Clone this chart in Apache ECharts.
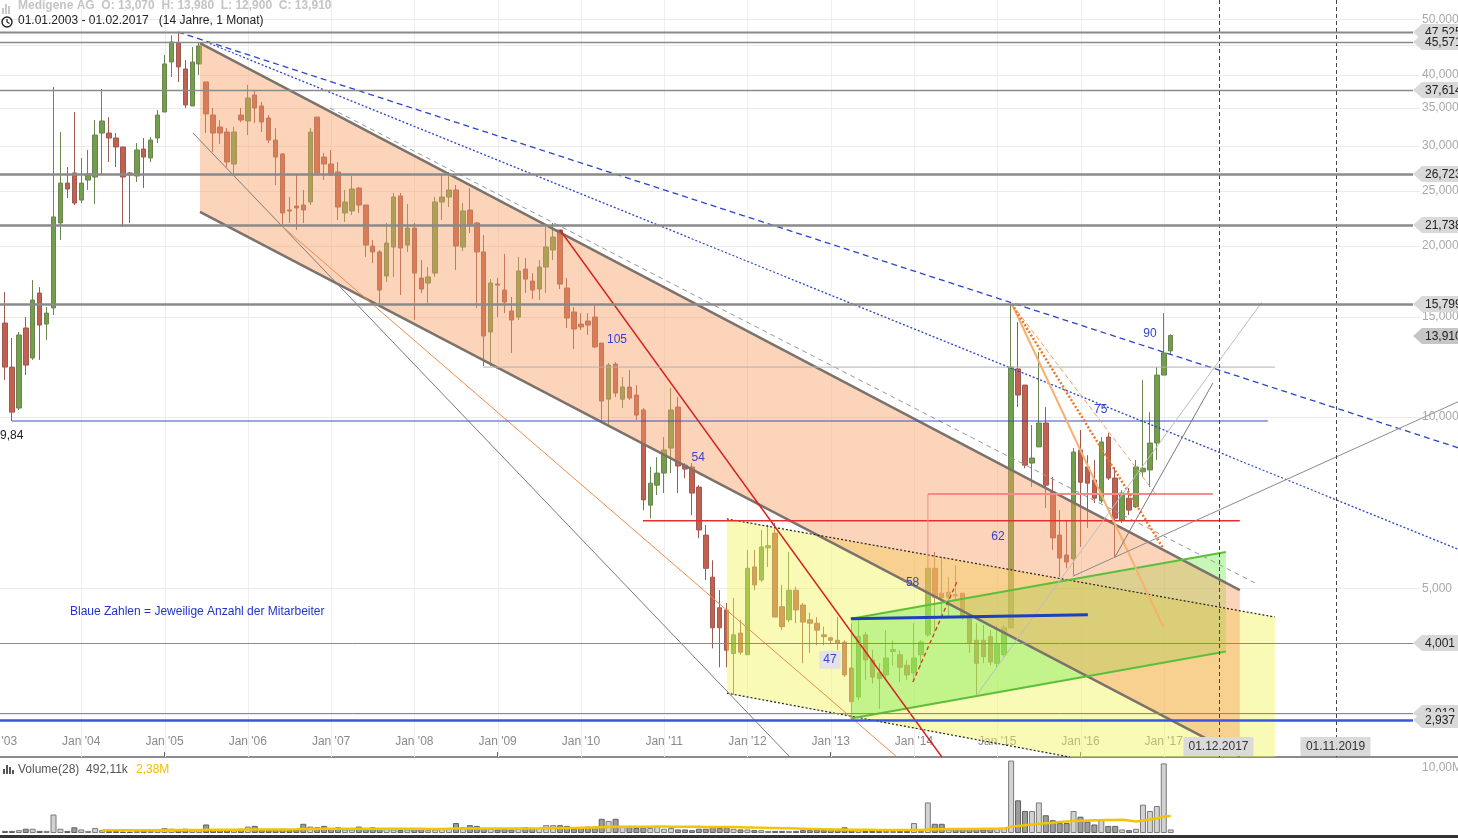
<!DOCTYPE html>
<html><head><meta charset="utf-8">
<script src="https://cdn.jsdelivr.net/npm/echarts@6.0.0/dist/echarts.min.js"></script>
<style>html,body{margin:0;padding:0;background:#fff;overflow:hidden}#c{width:1458px;height:838px}</style>
</head><body><div id="c"></div><script>
// ---------- DATA ----------
// month index: Jan 2003 = 0, first visible candle Feb 2003 = 1
const firstMonth = 1;
// [open, close, low, high] in EUR, monthly Feb 2003 .. Feb 2017
const ohlc = [
[14.63,12.24,11.62,16.59],[12.24,10.20,9.84,13.77],[10.37,13.94,10.29,14.11],[14.34,12.34,11.85,14.99],[12.70,16.06,12.60,17.41],
[16.52,14.51,12.60,16.92],[14.57,15.23,13.66,15.61],[15.55,22.48,15.11,38.04],[21.94,25.78,20.47,31.70],[25.78,25.17,24.27,27.51],
[26.86,23.78,23.59,34.38],[24.07,25.78,23.78,28.54],[26.10,26.75,25.07,29.48],[26.42,31.32,23.69,33.28],[31.57,33.15,26.64,37.73],
[31.57,30.94,28.08,33.68],[30.94,29.84,27.51,31.57],[29.84,26.42,21.58,29.84],[26.86,26.64,21.94,26.97],[26.53,29.48,25.89,30.32],
[29.60,28.65,25.27,30.94],[28.54,30.69,28.08,31.07],[30.94,33.96,30.32,34.66],[34.38,41.76,34.38,43.30],[42.09,45.64,39.61,46.90],
[45.46,41.26,38.82,47.525],[40.92,35.37,34.94,42.43],[35.23,42.09,35.23,44.73],[41.76,44.91,39.93,45.571],[38.82,34.11,31.57,38.82],
[33.96,31.57,29.24,34.94],[32.36,31.57,30.20,33.28],[31.70,28.08,27.51,32.23],[27.85,31.70,26.75,32.36],[33.96,33.28,33.01,34.94],
[33.15,36.38,31.32,38.35],[36.83,34.94,32.88,37.58],[35.23,33.01,31.70,35.81],[33.55,30.69,30.32,33.96],[30.69,28.65,25.58,32.23],
[29.00,22.84,21.76,29.12],[23.12,23.03,21.94,24.37],[23.50,23.31,21.32,26.64],[23.59,23.12,21.94,25.07],[23.88,31.70,23.59,32.23],
[33.68,26.86,26.86,33.68],[28.65,27.85,26.10,29.12],[27.85,26.64,26.53,29.48],[26.97,23.40,22.20,28.08],[22.84,23.88,22.02,25.07],
[23.03,25.17,22.66,26.53],[25.27,23.59,22.84,25.37],[23.59,20.06,19.12,23.59],[19.98,19.51,18.65,20.47],[19.51,16.72,15.61,19.66],
[17.70,20.22,17.27,21.94],[19.90,24.37,17.63,24.77],[24.47,19.82,16.39,24.77],[20.06,21.49,19.51,23.69],[21.49,17.91,14.81,21.94],
[17.55,16.79,16.52,18.88],[17.20,17.63,15.87,18.35],[17.91,23.88,17.63,24.37],[23.88,24.37,22.20,26.64],[24.37,25.07,23.40,26.97],
[25.07,19.98,18.13,25.58],[19.90,23.03,19.58,23.78],[23.12,21.76,21.06,25.27],[21.94,19.51,15.55,22.02],[19.51,13.88,12.29,20.89],
[14.11,17.20,12.29,17.48],[17.13,17.06,14.99,17.55],[16.72,15.93,15.23,19.35],[15.36,14.81,12.96,16.26],[14.99,18.06,14.81,19.12],
[18.20,17.48,16.52,19.04],[17.34,16.72,16.13,17.91],[16.79,18.35,16.06,18.88],[18.35,19.90,16.52,21.58],[19.66,20.72,18.88,21.94],
[21.32,17.13,16.79,21.32],[16.86,14.93,14.34,17.55],[15.30,14.28,13.17,15.61],[14.57,14.40,14.22,15.23],[14.75,14.51,13.94,15.23],
[14.99,13.28,13.23,15.80],[13.49,10.67,9.88,13.49],[10.75,12.34,9.60,12.44],[12.39,11.02,10.84,12.49],[10.75,11.29,10.37,11.76],
[11.29,10.80,10.71,12.10],[10.93,10.08,9.88,11.38],[10.29,7.15,6.86,10.37],[7.00,7.65,6.64,8.17],[7.59,7.97,7.29,8.50],
[7.97,8.75,7.35,9.22],[8.82,10.29,7.97,11.25],[10.41,8.20,7.35,10.84],[8.23,8.10,7.81,8.30],[8.17,7.35,6.72,8.30],
[7.53,6.33,6.13,7.59],[6.20,5.42,5.17,6.46],[5.23,4.26,3.92,5.60],[4.62,4.26,3.63,4.96],[4.58,3.89,3.63,4.71],
[3.84,4.14,3.25,4.81],[4.17,3.86,3.82,4.40],[3.82,5.42,3.82,5.84],[5.45,5.07,4.96,5.84],[5.17,5.91,5.13,6.33],
[5.89,5.94,5.45,6.46],[6.25,4.45,4.45,6.51],[4.64,4.28,4.22,5.07],[4.40,4.96,4.36,5.79],[4.96,4.58,4.34,5.03],
[4.67,4.36,3.69,4.71],[4.40,4.34,3.85,4.53],[4.34,4.22,3.97,4.45],[4.14,4.11,3.97,4.28],[4.09,4.05,4.00,4.11],
[4.05,4.00,3.89,4.45],[4.02,3.52,3.49,4.05],[3.62,3.16,2.937,4.34],[3.22,4.11,3.18,4.40],[4.14,3.74,3.45,4.19],
[3.74,3.49,3.40,3.89],[3.55,3.47,3.07,3.69],[3.52,3.77,3.45,4.22],[3.87,3.90,3.66,4.05],[3.82,3.63,3.42,3.89],
[3.66,3.52,3.45,3.74],[3.55,3.77,3.42,4.34],[3.82,4.02,3.63,4.05],[4.14,5.42,4.11,5.42],[5.42,4.82,4.19,5.79],
[4.90,4.81,4.45,5.67],[4.82,4.92,4.45,5.23],[4.87,4.85,4.77,5.49],[4.90,4.45,4.40,4.90],[4.45,4.00,3.85,4.45],
[4.05,3.69,3.25,4.34],[4.05,3.79,3.69,4.31],[4.11,3.71,3.66,4.22],[3.69,4.00,3.63,4.31],[3.82,4.26,3.79,4.31],
[4.26,12.24,4.26,15.799],[12.15,10.93,10.41,14.69],[11.38,8.23,8.13,11.38],[8.30,8.47,7.53,9.68],[8.86,9.76,8.86,13.01],
[9.76,7.59,6.92,10.41],[7.38,6.13,5.84,7.84],[6.20,5.65,5.23,6.86],[5.72,5.56,5.42,6.59],[5.63,8.68,5.27,8.82],
[8.75,7.68,5.91,9.49],[8.17,7.65,6.38,8.57],[7.75,7.20,7.06,8.40],[7.12,9.04,7.06,9.22],[9.22,7.81,7.75,9.37],
[7.81,6.64,5.67,8.17],[6.59,7.35,6.51,7.44],[7.20,6.86,6.72,7.50],[6.95,8.17,6.92,8.40],[8.01,8.13,7.84,11.62],
[8.07,9.00,7.53,10.20],[9.00,11.85,8.40,12.24],[11.85,12.96,11.85,15.23],[13.07,13.91,12.90,13.98]
];
// monthly volume in millions of shares
const volume = [
0.3,0.3,0.4,0.6,0.6,0.3,0.3,2.6,0.6,0.3,
0.8,0.5,0.3,0.7,0.4,0.3,0.3,0.2,0.2,0.3,
0.4,0.3,0.4,0.7,0.6,0.5,0.6,0.4,0.4,1.2,
0.5,0.5,0.4,0.4,0.6,0.9,1.0,0.5,0.4,0.5,
0.6,0.4,0.5,1.3,0.9,0.8,1.0,0.6,0.8,0.5,
0.5,0.9,0.6,0.8,0.6,0.6,0.5,0.4,0.5,0.6,
0.6,0.4,0.5,0.6,0.6,1.4,0.8,1.1,1.0,0.7,
0.6,0.5,0.6,0.5,0.6,0.8,0.7,0.7,1.1,1.1,
1.1,1.0,0.6,0.7,0.9,0.9,2.0,1.7,2.0,0.9,
1.0,0.7,0.8,0.7,0.9,0.6,0.7,0.5,0.5,0.4,
0.6,0.6,0.9,0.7,0.8,0.6,0.5,0.5,0.4,0.4,
0.3,0.3,0.3,0.3,0.3,0.4,0.4,0.5,0.4,0.6,
0.5,0.8,0.4,0.4,0.3,0.3,0.3,0.3,0.3,0.3,
0.3,1.4,0.3,4.3,1.3,1.3,0.5,0.7,0.7,0.6,
0.6,0.5,0.6,0.7,0.7,10.2,4.6,3.1,3.1,4.3,
2.5,1.8,1.4,1.4,3.1,2.3,1.6,1.2,1.9,1.0,
1.0,0.5,0.4,0.6,4.0,3.1,3.8,9.8,0.5
];
// Volume(28) moving average (millions), from candle index 14
const volumeMAStart = 14;
const volumeMA = [
0.40,0.40,0.39,0.38,0.38,0.38,0.39,0.40,0.40,0.41,0.42,0.42,0.43,0.43,0.44,0.46,0.46,
0.46,0.46,0.47,0.47,0.48,0.50,0.50,0.50,0.50,0.51,0.51,0.52,0.55,0.56,0.57,0.59,0.59,0.60,0.60,0.60,
0.60,0.60,0.61,0.61,0.61,0.60,0.60,0.59,0.59,0.59,0.58,0.58,0.58,0.60,0.62,0.62,0.63,0.64,0.64,0.64,
0.64,0.64,0.64,0.64,0.65,0.65,0.66,0.68,0.70,0.71,0.72,0.72,0.73,0.74,0.78,0.82,0.86,0.87,0.88,0.89,
0.89,0.89,0.89,0.90,0.90,0.89,0.88,0.88,0.87,0.87,0.86,0.86,0.85,0.85,0.83,0.81,0.79,0.76,0.74,0.72,
0.70,0.68,0.66,0.63,0.60,0.57,0.55,0.53,0.51,0.50,0.48,0.47,0.46,0.45,0.45,0.44,0.43,0.42,0.41,0.41,
0.42,0.44,0.50,0.52,0.54,0.55,0.56,0.57,0.58,0.58,0.59,0.59,0.60,0.62,0.90,1.00,1.10,1.20,1.30,1.38,
1.45,1.55,1.62,1.70,1.74,1.77,1.79,1.80,1.82,1.84,1.85,1.75,1.62,1.75,1.90,2.05,2.32,2.38
];
const yearTicks = [0,12,24,36,48,60,72,84,96,108,120,132,144,156,168];
const yearLabels = ["Jan '03","Jan '04","Jan '05","Jan '06","Jan '07","Jan '08","Jan '09","Jan '10","Jan '11","Jan '12","Jan '13","Jan '14","Jan '15","Jan '16","Jan '17"];
const priceTickLabels = [5,10,15,20,25,30,35,40,50];
const priceGridValues = [3,4,5,10,15,20,25,30,35,40,45,50];
const levelPrices = [47.525,45.571,37.614,26.723,21.738,15.799,4.001,3.012];
const blueLevelPrice = 2.937;
const lastClose = 13.910;
// future date markers [month position, label]
const futureMonths = [175.9, 192.8];
const futureLabels = ['01.12.2017','01.11.2019'];
// staff counts (blue numbers) and their [month, price] anchor
const staffCounts = [105,54,62,58,47,75,90];
const staffAnchors = [[89.2,13.66],[100.9,8.47],[144.1,6.15],[131.8,5.11],[119.9,3.74],[158.9,10.29],[166.0,14.0]];
// areas as [month, price] corners
const orangeChannelArea = [[29.11,45.45],[178.96,4.96],[178.96,2.535],[29.11,22.94]];
const yellowChannelArea = [[105.04,6.62],[184.01,4.45],[184.01,2.525],[154.47,2.525],[105.04,3.27]];
const greenChannelArea = [[122.91,4.42],[176.95,5.79],[176.95,3.87],[122.91,2.95]];
// trend lines as [month, price] pairs
const channelUpper = [[29.11,45.45],[178.96,4.96]];
const channelLower = [[29.11,22.94],[178.96,2.535]];
const yellowUpper = [[105.04,6.62],[184.01,4.45]];
const yellowLower = [[105.04,3.27],[154.47,2.525]];
const greenUpper = [[122.91,4.42],[176.95,5.79]];
const greenLower = [[122.91,2.95],[176.95,3.87]];
const blueBase = [[122.91,4.42],[157.06,4.49]];
const blueDashedTrend = [[25.94,47.525],[210.66,8.81]];
const blueDottedTrend = [[29.97,45.64],[210.66,5.84]];
const grayDashedTrend = [[47.84,34.94],[181.12,5.11]];
const grayLongTrend = [[28.1,31.57],[114.12,2.525]];
const orangeThinTrend = [[41.07,21.58],[129.54,2.525]];
const redTrend = [[80.98,21.32],[136.02,2.525]];
const redLevel = [[92.94,6.57],[178.96,6.57]];
const pinkLevel = [[134.01,7.32],[175.07,7.32]];
const pinkStem = [[134.01,7.32],[134.01,5.42]];
const redDashedShort = [[131.84,3.42],[138.18,5.13]];
const grayLevel = [[69.88,12.24],[184.01,12.24]];
const blueLevel984 = [[2.02,9.84],[183.0,9.84]];
const orangeFanSolid = [[146.11,15.799],[167.91,4.28]];
const orangeFanDotted = [[146.11,15.799],[167.91,5.88]];
const orangeFanDashed = [[146.11,15.799],[166.96,7.29]];
const grayFanLight = [[141.07,3.25],[182.13,15.93]];
const grayFanSteep = [[160.95,5.67],[175.07,11.47]];
const grayFanFlat = [[154.9,5.25],[210.66,10.67]];

// ---------- CHART ----------
const FONT = 'Arial, "Liberation Sans", sans-serif';
const P_MIN = 2.525, P_MAX = 54.1, X_MAX = 210.4;
const fmt3 = v => v.toFixed(3).replace('.', ',');

function lineSeries(data, color, width, type, z) {
  return {type:'line', xAxisIndex:0, yAxisIndex:0, data, showSymbol:false, symbol:'none', silent:true,
    clip:true, z: z || 5, lineStyle:{color, width, type: type || 'solid'}};
}
const fills = [
  {pts: yellowChannelArea, color:'rgba(240,245,90,0.45)'},
  {pts: greenChannelArea, color:'rgba(120,235,80,0.42)'},
  {pts: orangeChannelArea, color:'rgba(248,160,100,0.45)'}
];

const upStyle = {color:'#d2d2d2', borderColor:'#7a7a7a', borderWidth:1};
const downStyle = {color:'#9c9c9c', borderColor:'#5e5e5e', borderWidth:1};

const series = [
  // grid lines
  {type:'custom', xAxisIndex:0, yAxisIndex:0, z:1, silent:true,
   data: priceGridValues.map(p => [0, p]),
   renderItem: (params, api) => {
     const cs = params.coordSys; const y = Math.round(api.coord([0, api.value(1)])[1]) + 0.5;
     return {type:'line', shape:{x1:cs.x, y1:y, x2:cs.x+cs.width-38, y2:y}, style:{stroke:'#ebebeb', lineWidth:1}};
   }},
  {type:'custom', xAxisIndex:0, yAxisIndex:0, z:1, silent:true,
   data: yearTicks.slice(1).map(m => [m, P_MAX]),
   renderItem: (params, api) => {
     const cs = params.coordSys; const x = Math.round(api.coord([api.value(0), P_MAX])[0]) + 0.5;
     return {type:'line', shape:{x1:x, y1:cs.y, x2:x, y2:cs.y+cs.height}, style:{stroke:'#eeeeee', lineWidth:1}};
   }},
  // candles
  {type:'candlestick', xAxisIndex:0, yAxisIndex:0, z:2, barWidth:5,
   data: ohlc.map((d,i) => [i+firstMonth, d[0], d[1], d[2], d[3]]),
   encode:{x:0, y:[1,2,3,4]},
   itemStyle:{color:'#72a04a', color0:'#c4604f', borderColor:'#6b8450', borderColor0:'#9c5a50', borderWidth:1}},
  // fills
  {type:'custom', xAxisIndex:0, yAxisIndex:0, z:3, silent:true,
   data: fills.map(f => f.pts[0]),
   renderItem: (params, api) => {
     const f = fills[params.dataIndex];
     return {type:'polygon', shape:{points: f.pts.map(p => api.coord(p))}, style:{fill: f.color}};
   }},
  lineSeries(channelUpper, '#7b726c', 2.5),
  lineSeries(channelLower, '#7b726c', 2.5),
  lineSeries(yellowUpper, '#222', 1.2, [2,2]),
  lineSeries(yellowLower, '#222', 1.2, [2,2]),
  lineSeries(greenUpper, '#5cbf3a', 2),
  lineSeries(greenLower, '#5cbf3a', 2),
  lineSeries(blueDashedTrend, '#2a45cc', 1.3, [6,4]),
  lineSeries(blueDottedTrend, '#2a45cc', 1.3, [2,2]),
  lineSeries(grayDashedTrend, '#999999', 1, [5,4]),
  lineSeries(grayLongTrend, '#7a7a7a', 1),
  lineSeries(orangeThinTrend, '#f08a4a', 1),
  lineSeries(redTrend, '#d62020', 1.4),
  lineSeries(redLevel, '#e03030', 1.4),
  lineSeries(pinkLevel, '#f48a8a', 2),
  lineSeries(pinkStem, '#f48a8a', 1),
  lineSeries(redDashedShort, '#e03030', 1.3, [4,3]),
  lineSeries(grayLevel, '#b0b0b0', 1),
  lineSeries(blueLevel984, '#3a4fcc', 1),
  lineSeries(orangeFanSolid, '#f6b070', 2),
  lineSeries(orangeFanDotted, '#e8782a', 2.5, [2,2]),
  lineSeries(orangeFanDashed, '#f0a060', 1, [5,3]),
  lineSeries(grayFanLight, '#bdbdbd', 1),
  lineSeries(grayFanSteep, '#7a7a7a', 1),
  lineSeries(grayFanFlat, '#8a8a8a', 1),
  lineSeries(blueBase, '#1f3fbf', 3, 'solid', 6),
  // future markers
  {type:'custom', xAxisIndex:0, yAxisIndex:0, z:7, silent:true,
   data: futureMonths.map(m => [m, P_MIN]),
   renderItem: (params, api) => {
     const cs = params.coordSys; const x = Math.round(api.coord([api.value(0), P_MIN])[0]) + 0.5;
     const yb = cs.y + cs.height;
     return {type:'group', children:[
       {type:'line', shape:{x1:x, y1:cs.y, x2:x, y2:yb}, style:{stroke:'#444', lineWidth:1, lineDash:[4,3]}},
       {type:'rect', shape:{x:x-36, y:yb-20, width:70, height:19}, style:{fill:'#dadada'}},
       {type:'text', x:x-1, y:yb-10, style:{text: futureLabels[params.dataIndex], fill:'#333', font:'12px '+FONT, align:'center', verticalAlign:'middle'}}
     ]};
   }},
  // right axis labels
  {type:'custom', xAxisIndex:0, yAxisIndex:0, z:8, silent:true,
   data: priceTickLabels.map(p => [0, p]),
   renderItem: (params, api) => {
     const cs = params.coordSys; const y = api.coord([0, api.value(1)])[1];
     return {type:'text', x: cs.x+cs.width-36, y, style:{text: fmt3(api.value(1)), fill:'#a8a8a8', font:'12px '+FONT, align:'left', verticalAlign:'middle'}};
   }},
  // level lines with tags
  {type:'custom', xAxisIndex:0, yAxisIndex:0, z:9, silent:true,
   data: levelPrices.map(p => [0, p]).concat([[0, blueLevelPrice],[0, lastClose]]),
   renderItem: (params, api) => {
     const cs = params.coordSys; const p = api.value(1);
     const y = Math.round(api.coord([0, p])[1]);
     const tip = cs.x + cs.width - 45; const W = cs.x + cs.width + 4;
     const isBlue = params.dataIndex === levelPrices.length;
     const isLast = params.dataIndex === levelPrices.length + 1;
     const widths = [2, 1.5, 1.5, 2.5, 2.5, 2.5, 1, 1];
     const children = [];
     if (!isLast) {
       children.push({type:'line', shape:{x1:cs.x, y1:y+0.5, x2:tip, y2:y+0.5},
         style:{stroke: isBlue ? '#3a55e0' : '#8a8a8a', lineWidth: isBlue ? 2.5 : widths[params.dataIndex]}});
     }
     children.push({type:'polygon', shape:{points:[[tip,y],[tip+9,y-8],[W,y-8],[W,y+8],[tip+9,y+8]]},
       style:{fill: isLast ? '#c6c6c6' : '#d9d9d9'}});
     children.push({type:'text', x: tip+12, y: y+1, style:{text: fmt3(p), fill:'#222', font:'12px '+FONT, align:'left', verticalAlign:'middle'}});
     return {type:'group', children};
   }},
  // staff counts
  {type:'custom', xAxisIndex:0, yAxisIndex:0, z:10, silent:true,
   data: staffAnchors,
   renderItem: (params, api) => {
     const pt = api.coord([api.value(0), api.value(1)]);
     const n = staffCounts[params.dataIndex];
     return {type:'text', x: pt[0], y: pt[1], style:{text: String(n), fill:'#3344cc', font:'12px '+FONT, align:'center', verticalAlign:'middle',
       backgroundColor: n === 47 ? '#e3e3e3' : null, padding: n === 47 ? [3,4,3,4] : 0}};
   }},
  // volume
  {type:'bar', xAxisIndex:1, yAxisIndex:1, barWidth:6, z:2,
   data: volume.map((v,i) => ({value:[i+firstMonth, v], itemStyle: ohlc[i][1] >= ohlc[i][0] ? upStyle : downStyle}))},
  {type:'line', xAxisIndex:1, yAxisIndex:1, z:3, showSymbol:false, symbol:'none', silent:true,
   data: volumeMA.map((v,i) => [i+volumeMAStart+firstMonth, v]),
   lineStyle:{color:'#f4c400', width:2.5}}
];

const option = {
  animation:false,
  backgroundColor:'#ffffff',
  textStyle:{fontFamily:FONT},
  grid:[
    {left:-2, top:0, width:1460, height:757, containLabel:false, outerBoundsMode:'none'},
    {left:-2, top:760, width:1460, height:73, containLabel:false, outerBoundsMode:'none'}
  ],
  xAxis:[
    {type:'value', gridIndex:0, min:0, max:X_MAX,
     axisLine:{show:true, onZero:false, lineStyle:{color:'#8c8c8c', width:2}},
     axisTick:{show:true, inside:true, length:5, customValues: yearTicks, lineStyle:{color:'#666'}},
     axisLabel:{show:true, inside:true, margin:9, customValues: yearTicks,
       formatter: v => { const k = yearTicks.indexOf(Math.round(v)); return k >= 0 ? yearLabels[k] : ''; },
       color:'#8a8a8a', fontSize:12, fontFamily:FONT},
     splitLine:{show:false}},
    {type:'value', gridIndex:1, min:0, max:X_MAX, show:false}
  ],
  yAxis:[
    {type:'log', gridIndex:0, min:P_MIN, max:P_MAX, position:'right',
     axisLine:{show:false}, axisTick:{show:false}, axisLabel:{show:false}, splitLine:{show:false}},
    {type:'value', gridIndex:1, min:0, max:10.28, position:'right',
     axisLine:{show:false}, axisTick:{show:false}, splitLine:{show:false},
     axisLabel:{show:true, inside:true, customValues:[10], formatter:()=> '10,00M', color:'#a8a8a8', fontSize:12, fontFamily:FONT, margin:36, align:'left', verticalAlign:'top'}}
  ],
  series,
  graphic:[
    // header
    {type:'rect', left:2, top:8, shape:{width:2, height:6}, style:{fill:'#c8c8c8'}, z:20},
    {type:'rect', left:5, top:4, shape:{width:2, height:10}, style:{fill:'#c8c8c8'}, z:20},
    {type:'rect', left:8, top:6, shape:{width:2, height:8}, style:{fill:'#c8c8c8'}, z:20},
    {type:'text', left:18, top:0, z:20, style:{text:'Medigene AG  O: 13,070  H: 13,980  L: 12,900  C: 13,910', fill:'#c4c4c4', font:'bold 12px '+FONT}},
    {type:'circle', shape:{cx:7, cy:22, r:5}, style:{fill:'none', stroke:'#222', lineWidth:1.4}, z:20},
    {type:'polyline', shape:{points:[[7,19],[7,22],[9.5,23.5]]}, style:{stroke:'#222', lineWidth:1.2, fill:'none'}, z:20},
    {type:'text', left:18, top:15, z:20, style:{text:'01.01.2003 - 01.02.2017   (14 Jahre, 1 Monat)', fill:'#222', font:'12px '+FONT}},
    // notes
    {type:'text', left:70, top:606, z:20, style:{text:'Blaue Zahlen = Jeweilige Anzahl der Mitarbeiter', fill:'#2233cc', font:'12px '+FONT}},
    {type:'text', left:0, top:430, z:20, style:{text:'9,84', fill:'#222', font:'12px '+FONT}},
    // volume header
    {type:'rect', left:3, top:769, shape:{width:2, height:5}, style:{fill:'#555'}, z:20},
    {type:'rect', left:6, top:765, shape:{width:2, height:9}, style:{fill:'#555'}, z:20},
    {type:'rect', left:9, top:767, shape:{width:2, height:7}, style:{fill:'#555'}, z:20},
    {type:'rect', left:12, top:770, shape:{width:2, height:4}, style:{fill:'#555'}, z:20},
    {type:'text', left:18, top:764, z:20, style:{text:'Volume(28)  492,11k', fill:'#555', font:'12px '+FONT}},
    {type:'text', left:136, top:764, z:20, style:{text:'2,38M', fill:'#f0c000', font:'12px '+FONT}},
    // bottom bar
    {type:'rect', left:0, top:835, shape:{width:1458, height:3}, style:{fill:'#333'}, z:20}
  ]
};
const chart = echarts.init(document.getElementById('c'));
chart.setOption(option);
</script></body></html>
